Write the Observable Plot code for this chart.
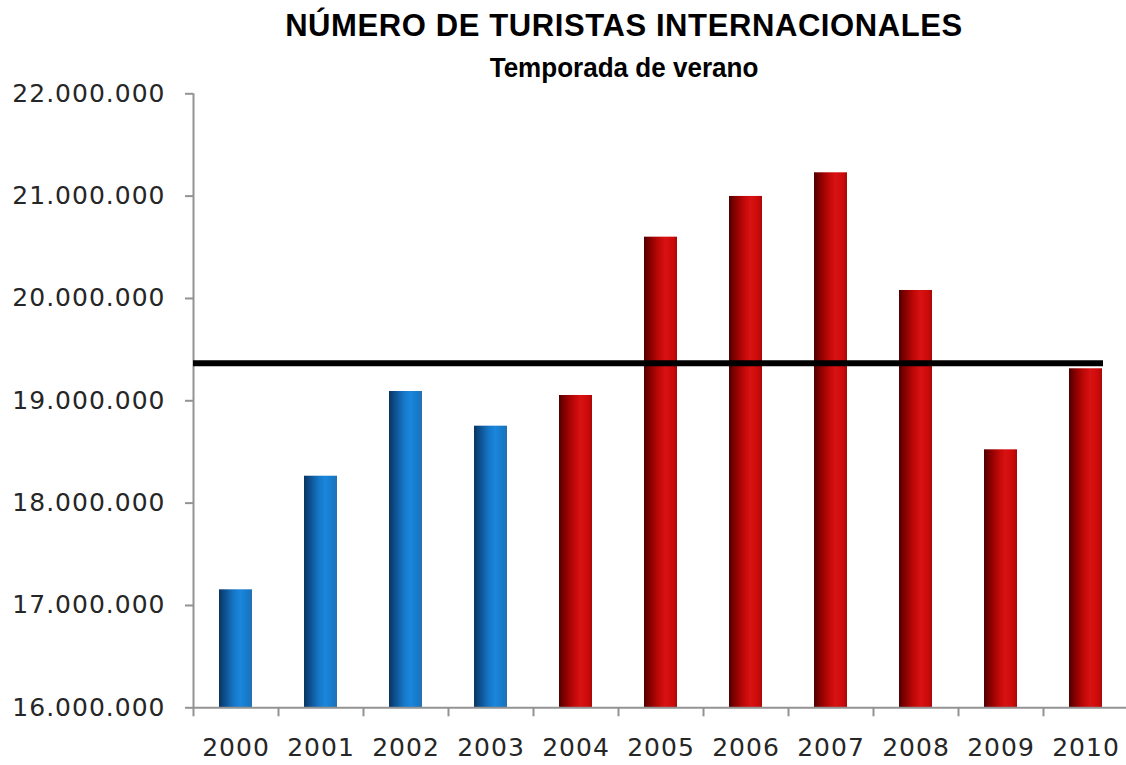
<!DOCTYPE html>
<html><head><meta charset="utf-8">
<script src="https://cdn.jsdelivr.net/npm/d3@7"></script>
<script src="https://cdn.jsdelivr.net/npm/@observablehq/plot@0.6"></script>
<style>
body{margin:0;background:#fff;width:1126px;height:765px;overflow:hidden;font-family:"Liberation Sans",Arial,sans-serif;color:#000;}
#title{height:82px;position:relative;}
.t1{position:absolute;left:0;width:1248px;top:10px;text-align:center;font-weight:bold;font-size:31px;line-height:31px;letter-spacing:0.6px;white-space:nowrap;}
.t2{position:absolute;left:0;width:1248px;top:54px;text-align:center;font-weight:bold;font-size:28px;line-height:28px;white-space:nowrap;transform:scaleX(0.93);transform-origin:624px 0;}
#chart svg{overflow:visible;display:block;}
</style></head><body>
<div id="title">
  <div class="t1">NÚMERO DE TURISTAS INTERNACIONALES</div>
  <div class="t2">Temporada de verano</div>
</div>
<div id="chart"></div>
<script>
const years = ["2000","2001","2002","2003","2004","2005","2006","2007","2008","2009","2010"];
const turistas = [17153000,18263000,19091000,18752000,19052000,20599000,20997000,21228000,20078000,18521000,19313000];
const periodo = ["A","A","A","A","B","B","B","B","B","B","B"];
const yTicks = [16000000,17000000,18000000,19000000,20000000,21000000,22000000];

const data = years.map((y,i)=>({year:y, value:turistas[i], periodo:periodo[i]}));
const media = d3.mean(turistas);
const fmt = d3.formatLocale({decimal:",", thousands:".", grouping:[3], currency:["",""]}).format(",d");
const gray = "#939393";

const plot = Plot.plot({
  width:1126, height:683,
  marginTop:11.3, marginBottom:57.7, marginLeft:193, marginRight:0,
  style:{fontFamily:"'DejaVu Sans', Verdana, sans-serif", fontSize:"25px", color:"#262626", background:"transparent", overflow:"visible", letterSpacing:"1px"},
  x:{domain:years, range:[193,1128], paddingInner:0.61, paddingOuter:0.305, label:null},
  y:{domain:[16000000,22000000], label:null},
  marks:[
    Plot.barY(data.filter(d=>d.periodo==="A"), {x:"year", y1:16000000, y2:"value", fill:"url(#gBlue)"}),
    Plot.barY(data.filter(d=>d.periodo==="B"), {x:"year", y1:16000000, y2:"value", fill:"url(#gRed)"}),
    Plot.ruleY([16000000], {stroke:gray, strokeWidth:2}),
    Plot.ruleX(years, {x:d=>d, y1:16000000, y2:16000000, insetBottom:-9, dx:-42.5, stroke:gray, strokeWidth:2}),
    Plot.ruleX(["2000"], {x:d=>d, y1:16000000, y2:22000000, dx:-42.5, stroke:gray, strokeWidth:2}),
    Plot.axisY({ticks:yTicks, tickFormat:fmt, tickSize:8, tickPadding:20, stroke:gray, strokeWidth:2, fill:"#262626", label:null}),
    Plot.axisX({tickSize:0, tickPadding:30, fill:"#262626", label:null}),
    Plot.ruleY([media], {stroke:"#000", strokeWidth:6, insetRight:23})
  ]
});

const defs = d3.select(plot).insert("defs", ":first-child");
const gB = defs.append("linearGradient").attr("id","gBlue").attr("x1","0").attr("x2","1").attr("y1","0").attr("y2","0");
[["0%","#0a3560"],["18%","#0d4f8e"],["45%","#1677c8"],["65%","#1b86dc"],["88%","#1579c8"],["100%","#2a6fae"]].forEach(([o,c])=>gB.append("stop").attr("offset",o).attr("stop-color",c));
const gR = defs.append("linearGradient").attr("id","gRed").attr("x1","0").attr("x2","1").attr("y1","0").attr("y2","0");
[["0%","#4e0000"],["18%","#850000"],["45%","#c00808"],["65%","#d81212"],["88%","#cc0a0a"],["100%","#a80808"]].forEach(([o,c])=>gR.append("stop").attr("offset",o).attr("stop-color",c));

document.getElementById("chart").appendChild(plot);
</script>
</body></html>
